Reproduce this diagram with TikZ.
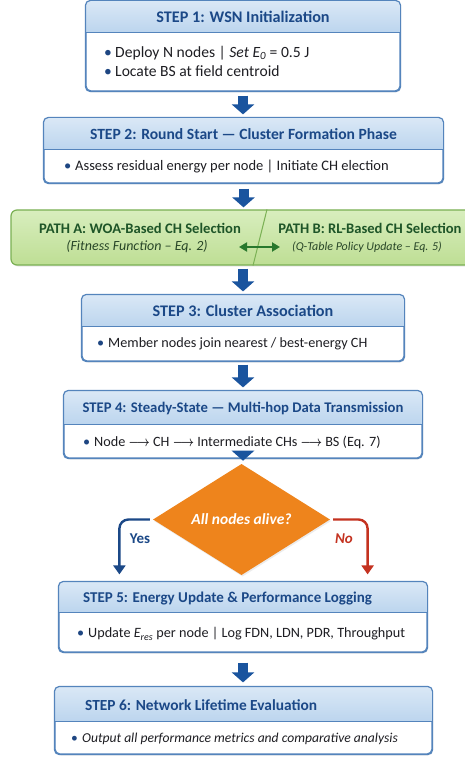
\documentclass[tikz,border=0pt]{standalone}
\usepackage{fontspec}
\usepackage{graphicx}
\setmainfont{Carlito}
\usetikzlibrary{arrows.meta,shapes.geometric,shadows}
\definecolor{boxline}{RGB}{84,132,188}
\definecolor{hdtop}{RGB}{218,232,246}
\definecolor{hdbot}{RGB}{188,213,238}
\definecolor{titleblue}{RGB}{27,72,135}
\definecolor{arrowblue}{RGB}{26,84,158}
\definecolor{bodytext}{RGB}{30,30,35}
\definecolor{bulletblue}{RGB}{30,70,130}
\definecolor{gtop}{RGB}{216,238,190}
\definecolor{gbot}{RGB}{190,222,148}
\definecolor{gline}{RGB}{122,176,84}
\definecolor{gtext}{RGB}{30,85,40}
\definecolor{gtext2}{RGB}{40,70,40}
\definecolor{garrow}{RGB}{40,120,45}
\definecolor{dorange}{RGB}{238,132,28}
\definecolor{nored}{RGB}{196,50,32}
\newcommand\bul{\makebox[11pt][l]{\color{bulletblue}\textbullet}}
\newcommand\rarr{\scalebox{0.8}[1]{\boldmath$\longrightarrow$}}
\newcommand\mkstep[6]{%
  \node[frame, minimum width=#4pt, minimum height=#5pt] (#1) at (#2,#3) {};
  \begin{scope}
    \clip[rounded corners=5pt] (#1.north west) rectangle (#1.south east);
    \shade[top color=hdtop, bottom color=hdbot] (#1.north west) rectangle ([yshift=-#6pt]#1.north east);
  \end{scope}
  \draw[draw=boxline, line width=1.1pt] ([yshift=-#6pt]#1.north west) -- ([yshift=-#6pt]#1.north east);
  \draw[draw=boxline, line width=1.2pt, rounded corners=5pt] (#1.north west) rectangle (#1.south east);
}
\tikzset{
  frame/.style={draw=boxline, line width=1.2pt, rounded corners=5pt, fill=white, inner sep=0pt,
    drop shadow={opacity=0.18, shadow xshift=1pt, shadow yshift=-1.5pt}},
  ttl/.style={inner sep=0pt, text=titleblue, font=\fontsize{#1}{17}\selectfont\bfseries},
  ttl/.default=14.7,
  bodyt/.style={inner sep=0pt, text=bodytext, align=left, font=\fontsize{14.2}{19}\selectfont},
  blockarr/.style={draw=arrowblue, line width=10pt, -{Triangle[width=22pt,length=10pt]}},
  flowarr/.style={line width=2.4pt, rounded corners=9pt, -{Triangle[width=12pt,length=9pt]}},
  ptitle/.style={inner sep=0pt, text=gtext, font=\fontsize{14.6}{17}\selectfont\bfseries},
  psub/.style={inner sep=0pt, text=gtext2, font=\fontsize{14}{16}\selectfont\itshape},
}
\begin{document}
\begin{tikzpicture}[x=1pt,y=-1pt]
\useasboundingbox[fill=white] (0,0) rectangle (464,759);

% STEP 1
\mkstep{s1}{243}{46}{314}{90}{32}
\node[ttl=16.2] (t1) at (243,17) {STEP 1: WSN Initialization};
\node[bodyt, anchor=west, font=\fontsize{15.6}{19}\selectfont] (b1) at (104,61.5) {\bul Deploy N nodes | \textit{Set E\textsubscript{0}} = 0.5 J\\ \bul Locate BS at field centroid};

% STEP 2
\mkstep{s2}{243.5}{150.5}{399}{65}{32}
\node[ttl=15.6] (t2) at (243.5,134) {STEP 2: Round Start — Cluster Formation Phase};
\node[bodyt, anchor=west, font=\fontsize{14.5}{19}\selectfont] (b2) at (64,167) {\bul Assess residual energy per node | Initiate CH election};

% PATH box
\node[draw=gline, line width=1.2pt, rounded corners=6pt, top color=gtop, bottom color=gbot,
      minimum width=469pt, minimum height=55pt, inner sep=0pt,
      drop shadow={opacity=0.18, shadow xshift=1pt, shadow yshift=-1.5pt}] (g) at (245.5,237.5) {};
\draw[draw=gline, line width=1pt] ([xshift=21.5pt]g.north) -- ([xshift=7.5pt]g.south);
\node[ptitle] (pa1) at (140,228) {PATH A: WOA-Based CH Selection};
\node[psub] (pa2) at (137,247) {(Fitness Function – Eq. 2)};
\node[ptitle] (pb1) at (370,228) {PATH B: RL-Based CH Selection};
\node[psub, font=\fontsize{12}{14}\selectfont\itshape] (pb2) at (367,247) {(Q-Table Policy Update – Eq. 5)};
\coordinate (da) at (239,247);
\coordinate (db) at (280,247);
\draw[draw=garrow, line width=2pt, {Triangle[width=9pt,length=8pt]}-{Triangle[width=9pt,length=8pt]}] (da) -- (db);

% STEP 3
\mkstep{s3}{243}{328}{322}{66}{32}
\node[ttl=16.2] (t3) at (243,311) {STEP 3: Cluster Association};
\node[bodyt, anchor=west] (b3) at (97,344) {\bul Member nodes join nearest / best-energy CH};

% STEP 4
\mkstep{s4}{243}{424.5}{358}{67}{34}
\node[ttl] (t4) at (243,408) {STEP 4: Steady-State — Multi-hop Data Transmission};
\node[bodyt, anchor=west] (b4) at (83,442) {\bul Node \rarr\ CH \rarr\ Intermediate CHs \rarr\ BS (Eq. 7)};

% Decision
\node[diamond, fill=dorange, minimum width=177pt, minimum height=59pt, inner sep=0pt,
      drop shadow={opacity=0.15, shadow xshift=1pt, shadow yshift=-1.5pt},
      text=white, font=\fontsize{15.5}{17}\selectfont\bfseries\itshape] (d) at (241.5,519.5) {All nodes alive?};

% STEP 5
\mkstep{s5}{243}{617}{368}{70}{31}
\node[ttl=15, anchor=west] (t5) at (83,599) {STEP 5: Energy Update \& Performance Logging};
\node[bodyt, anchor=west] (b5) at (77,634) {\bul Update \textit{E\textsubscript{res}} per node | Log FDN, LDN, PDR, Throughput};

% STEP 6
\mkstep{s6}{243.5}{720.5}{377}{67}{35}
\node[ttl=15.4, anchor=west] (t6) at (85,705) {STEP 6: Network Lifetime Evaluation};
\node[bodyt, anchor=west, font=\fontsize{13.6}{19}\selectfont] (b6) at (71,739) {\bul \textit{Output all performance metrics and comparative analysis}};

% block arrows
\draw[blockarr, shorten <=4pt, shorten >=3pt] (s1.south) -- (s1.south |- s2.north);
\draw[blockarr, shorten <=5pt, shorten >=2pt] (s2.south) -- (s2.south |- g.north);
\draw[blockarr, shorten <=3pt, shorten >=3pt] (s3.north |- g.south) -- (s3.north);
\draw[blockarr, shorten <=3pt, shorten >=3pt] (s3.south) -- (s4.north);
\draw[blockarr, shorten <=5pt, shorten >=3pt] (s4.south) -- (s4.south |- d.north);
\draw[blockarr, shorten <=10pt, shorten >=4pt] (s5.south) -- (s5.south |- s6.north);

% Yes / No
\draw[flowarr, draw=titleblue, shorten >=7pt] ([xshift=-3pt]d.west) -| ([xshift=61pt]s5.north west);
\draw[flowarr, draw=nored, shorten >=7pt] ([xshift=3pt]d.east) -| ([xshift=-60pt]s5.north east);
\node[inner sep=0pt, text=titleblue, font=\fontsize{15}{17}\selectfont\bfseries] (yes) at (140,539) {Yes};
\node[inner sep=0pt, text=nored, font=\fontsize{15}{17}\selectfont\bfseries\itshape] (no) at (344,539) {No};
\end{tikzpicture}
\end{document}
